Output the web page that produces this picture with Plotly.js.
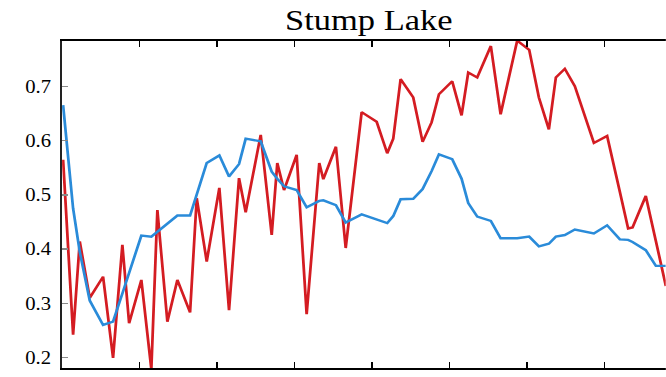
<!DOCTYPE html>
<html>
<head>
<meta charset="utf-8">
<script src="https://cdn.plot.ly/plotly-3.0.1.min.js"></script>
<style>
  html, body { margin: 0; padding: 0; background: #ffffff; overflow: hidden; }
  #wrap { width: 666px; height: 377px; overflow: hidden; }
  /* the figure is drawn narrower and widened horizontally */
  #chart { width: 579px; height: 377px; transform: scaleX(1.15); transform-origin: 0 0; }
</style>
</head>
<body>
<div id="wrap"><div id="chart"></div></div>
<script>
// Sample positions along the time axis (axis units, ticks every 10)
const xPos = [0.13, 1.42, 2.28, 3.57, 5.29, 6.58, 7.78, 8.65, 10.23, 11.52,
  12.30, 13.59, 14.88, 16.52, 17.38, 18.67, 20.30, 21.55, 22.84, 23.70,
  25.64, 27.06, 27.78, 28.65, 30.28, 31.57, 33.20, 33.72, 35.35, 36.61,
  38.67, 40.61, 41.97, 42.75, 43.70, 45.33, 46.54, 47.70, 48.65, 50.36,
  51.57, 52.43, 53.59, 55.35, 56.61, 58.75, 60.30, 61.55, 62.84, 63.74,
  64.90, 66.19, 68.65, 70.36, 72.00, 73.07, 73.64, 75.35, 76.65, 77.94];

// Raw observations (red)
const observed = [0.565, 0.242, 0.414, 0.310, 0.349, 0.199, 0.408, 0.263, 0.343, 0.178,
  0.472, 0.266, 0.343, 0.283, 0.494, 0.377, 0.513, 0.287, 0.531, 0.468,
  0.611, 0.426, 0.559, 0.509, 0.574, 0.280, 0.559, 0.529, 0.589, 0.402,
  0.653, 0.635, 0.577, 0.604, 0.714, 0.680, 0.598, 0.634, 0.686, 0.710,
  0.647, 0.726, 0.717, 0.775, 0.649, 0.785, 0.768, 0.680, 0.621, 0.717,
  0.733, 0.701, 0.596, 0.609, 0.506, 0.438, 0.440, 0.498, 0.415, 0.332];

// Smoothed curve (blue)
const smoothed = [0.666, 0.475, 0.395, 0.305, 0.260, 0.266, 0.318, 0.356, 0.425, 0.423,
  0.432, 0.448, 0.462, 0.462, 0.500, 0.559, 0.573, 0.534, 0.557, 0.604,
  0.599, 0.543, 0.530, 0.516, 0.509, 0.477, 0.489, 0.490, 0.481, 0.449,
  0.464, 0.455, 0.448, 0.461, 0.492, 0.493, 0.511, 0.544, 0.575, 0.566,
  0.530, 0.485, 0.460, 0.452, 0.420, 0.420, 0.423, 0.405, 0.410, 0.423,
  0.426, 0.436, 0.429, 0.444, 0.418, 0.417, 0.413, 0.398, 0.369, 0.369];

const yTicks = [0.2, 0.3, 0.4, 0.5, 0.6, 0.7];
const yTickText = ['0.2', '0.3', '0.4', '0.5', '0.6', '0.7'];
const xTicks = [0, 10, 20, 30, 40, 50, 60, 70];

const serif = '"Liberation Serif", "Times New Roman", "DejaVu Serif", serif';

const traces = [
  {
    x: xPos, y: observed, type: 'scatter', mode: 'lines',
    line: { color: '#d41c22', width: 2.4 },
    hoverinfo: 'skip', showlegend: false, cliponaxis: true
  },
  {
    x: xPos, y: smoothed, type: 'scatter', mode: 'lines',
    line: { color: '#2a8bd9', width: 2.4 },
    hoverinfo: 'skip', showlegend: false, cliponaxis: true
  }
];

const layout = {
  width: 579, height: 377,
  margin: { l: 54, r: 0, t: 41, b: 9, pad: 0 },
  paper_bgcolor: '#ffffff', plot_bgcolor: '#ffffff',
  font: { family: serif, color: '#000000', size: 18 },
  title: {
    text: 'Stump Lake',
    font: { family: serif, size: 30, color: '#000000' },
    x: 0.508, xref: 'paper', xanchor: 'center',
    y: 0.947, yref: 'container', yanchor: 'middle'
  },
  xaxis: {
    range: [0, 77.94], showgrid: false, zeroline: false,
    tickmode: 'array', tickvals: xTicks, showticklabels: false,
    ticks: 'inside', ticklen: 6, tickwidth: 1.3, tickcolor: '#000000',
    showline: true, linecolor: '#000000', linewidth: 2, mirror: 'ticks'
  },
  yaxis: {
    range: [0.1804, 0.7843], showgrid: false, zeroline: false,
    tickmode: 'array', tickvals: yTicks, ticktext: yTickText,
    ticks: 'inside', ticklen: 5, tickwidth: 1.3, tickcolor: '#8a8a8a',
    ticklabelstandoff: 4,
    tickfont: { family: serif, size: 18, color: '#000000' },
    showline: true, linecolor: '#222222', linewidth: 2, mirror: false
  }
};

Plotly.newPlot('chart', traces, layout, { staticPlot: true, displayModeBar: false });
</script>
</body>
</html>
